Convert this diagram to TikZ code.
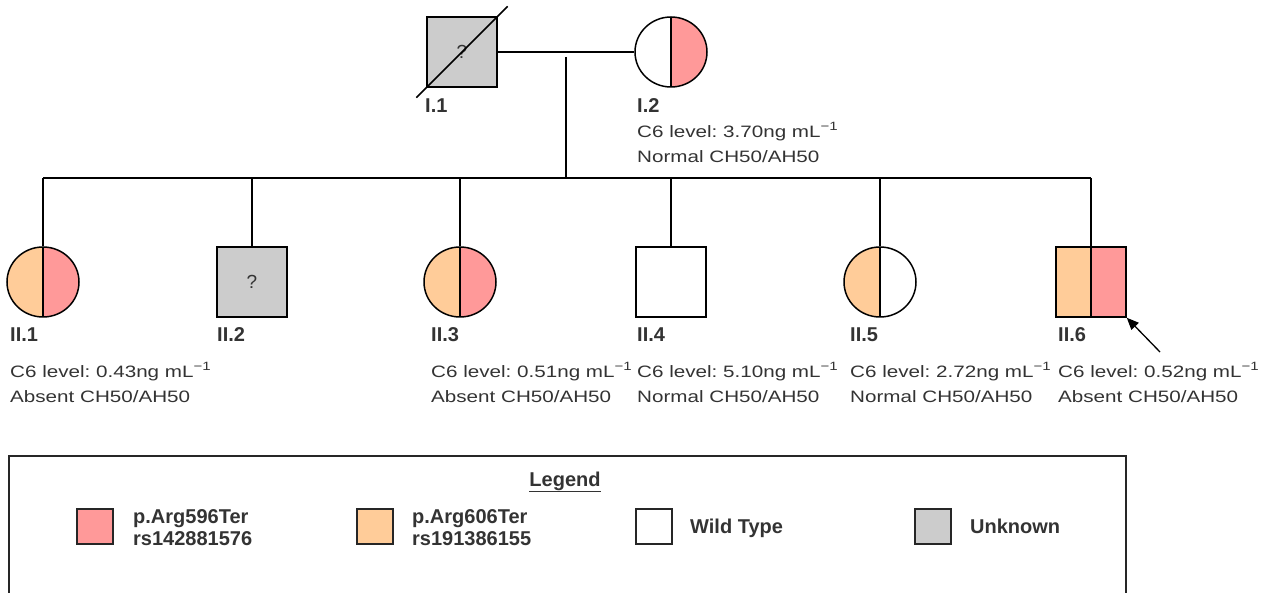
\documentclass[tikz,border=0pt]{standalone}
\usepackage{fontspec}
\setmainfont{Liberation Sans}
\newfontfamily\widesans[FakeStretch=1.25]{Liberation Sans}
\usetikzlibrary{shapes.geometric,arrows.meta}
\definecolor{pinkv}{HTML}{FF9999}
\definecolor{orangev}{HTML}{FFCC99}
\definecolor{unk}{HTML}{CCCCCC}
\definecolor{ink}{HTML}{333333}
% "mL^-1" with a text superscript
\newcommand\perml{mL\raisebox{0.45em}{\fontsize{12}{12}\selectfont −1}}
\begin{document}
\frenchspacing
\begin{tikzpicture}[x=1pt,y=-1pt,
  person/.style={draw=black, line width=1.5pt, inner sep=0pt, text=ink,
    font=\fontsize{19}{19}\selectfont},
  male/.style={person, rectangle, minimum width=70pt, minimum height=70pt},
  female/.style={person, ellipse, minimum width=72pt, minimum height=70pt},
  split/.style 2 args={path picture={
    \fill[#1] (path picture bounding box.south west) rectangle (path picture bounding box.north);
    \fill[#2] (path picture bounding box.south) rectangle (path picture bounding box.north east);
    \draw[line width=1.5pt] (path picture bounding box.south) -- (path picture bounding box.north);}},
  idlabel/.style={anchor=base west, inner sep=0pt, text=ink,
    font=\bfseries\fontsize{20}{20}\selectfont},
  datatext/.style={anchor=base west, inner sep=0pt, text=ink, align=left,
    font=\widesans\frenchspacing\fontsize{16.5}{25}\selectfont},
  swatch/.style={draw=black!85, line width=1.5pt, minimum width=36pt, minimum height=35pt, inner sep=0pt},
  keytext/.style={anchor=base west, inner sep=0pt, text=ink, align=left,
    font=\bfseries\fontsize{20}{22}\selectfont},
  link/.style={draw=black, line width=1.5pt}
]
\useasboundingbox (0,0) rectangle (1264,593);
\clip (0,0) rectangle (1264,593);

% generation I
\node[male, fill=unk] (I1) at (462,52) {?};
\draw[link, shorten <=-14pt, shorten >=-14pt] (I1.south west) -- (I1.north east);
\node[female, split={white}{pinkv}] (I2) at (671,52) {};
\node[idlabel] (I1lab) at (425,113) {I.1};
\node[idlabel] (I2lab) at (637,113) {I.2};
% two-line texts are anchored on the baseline of their last line
\node[datatext] (I2dat) at (637,163) {C6 level: 3.70ng \perml\\Normal CH50/AH50};

% generation II
\node[female, split={orangev}{pinkv}] (II1) at (43,282) {};
\node[male, fill=unk] (II2) at (252,282) {?};
\node[female, split={orangev}{pinkv}] (II3) at (460,282) {};
\node[male, fill=white] (II4) at (671,282) {};
\node[female, split={orangev}{white}] (II5) at (880,282) {};
\node[male, split={orangev}{pinkv}] (II6) at (1091,282) {};

\node[idlabel] (II1lab) at (10,342) {II.1};
\node[idlabel] (II2lab) at (217,342) {II.2};
\node[idlabel] (II3lab) at (431,342) {II.3};
\node[idlabel] (II4lab) at (637,342) {II.4};
\node[idlabel] (II5lab) at (850,342) {II.5};
\node[idlabel] (II6lab) at (1058,342) {II.6};

\node[datatext] (II1dat) at (10,403) {C6 level: 0.43ng \perml\\Absent CH50/AH50};
\node[datatext] (II3dat) at (431,403) {C6 level: 0.51ng \perml\\Absent CH50/AH50};
\node[datatext] (II4dat) at (637,403) {C6 level: 5.10ng \perml\\Normal CH50/AH50};
\node[datatext] (II5dat) at (850,403) {C6 level: 2.72ng \perml\\Normal CH50/AH50};
\node[datatext] (II6dat) at (1058,403) {C6 level: 0.52ng \perml\\Absent CH50/AH50};

% mating, descent and sibship lines
\coordinate (desc) at (566,57);
\coordinate (sib) at (566,178);
\draw[link] (I1.east) -- (I2.west);
\draw[link] (desc) -- (sib);
\draw[link] (II1.north |- sib) -- (II6.north |- sib);
\foreach \c in {II1,II2,II3,II4,II5,II6}
  \draw[link] (\c.north) -- (\c.north |- sib);

% proband arrow
\coordinate (ptail) at (1160,352);
\draw[line width=1.3pt, -{Triangle[length=12pt,width=10pt]}] (ptail) -- (II6.south east);

% legend
\draw[line width=1.5pt, draw=black!85] (9,456) rectangle (1126,640);
\node[anchor=base, inner sep=0pt, text=ink, font=\bfseries\fontsize{20}{20}\selectfont]
  (legtitle) at (565,486) {\underline{Legend}};
\node[swatch, fill=pinkv] (kpink) at (95,526.5) {};
\node[keytext] (kpinktxt) at (133,545) {p.Arg596Ter\\rs142881576};
\node[swatch, fill=orangev] (korange) at (375,526.5) {};
\node[keytext] (korangetxt) at (412,545) {p.Arg606Ter\\rs191386155};
\node[swatch, fill=white] (kwild) at (654,526.5) {};
\node[keytext] (kwildtxt) at (690,533) {Wild Type};
\node[swatch, fill=unk] (kunk) at (933,526.5) {};
\node[keytext] (kunktxt) at (970,533) {Unknown};
\end{tikzpicture}
\end{document}
